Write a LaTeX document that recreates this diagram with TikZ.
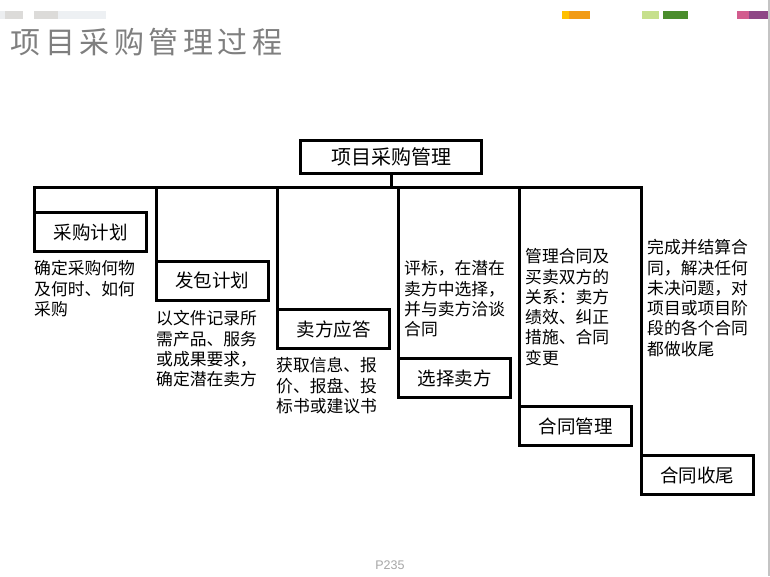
\documentclass[tikz,border=0pt]{standalone}
\usepackage{fontspec}
\setmainfont{Noto Sans CJK SC}
\newfontfamily\latinsans{Liberation Sans}
\definecolor{titlegray}{HTML}{7F7F7F}
\definecolor{pagegray}{HTML}{A6A6A6}
\definecolor{edgegray}{HTML}{C4C4C4}
\definecolor{decA}{HTML}{ECEEF0}
\definecolor{decB}{HTML}{DCDBD9}
\definecolor{decC}{HTML}{EDF0F3}
\definecolor{decYellow}{HTML}{FFC000}
\definecolor{decOrange}{HTML}{F29B16}
\definecolor{decLGreen}{HTML}{C6E08C}
\definecolor{decDGreen}{HTML}{4A8D2C}
\definecolor{decPink}{HTML}{D25C8E}
\definecolor{decPurple}{HTML}{8E4686}
\begin{document}
\begin{tikzpicture}[x=1pt,y=-1pt,
  stage/.style={draw=black,line width=3pt,minimum width=112pt,minimum height=39pt,
    inner sep=0pt,outer sep=0pt,font=\fontsize{18.5}{22}\selectfont},
  desc/.style={anchor=north west,align=left,inner sep=0pt,
    font=\fontsize{16.8}{20.3}\selectfont},
  link/.style={line width=3pt,line join=miter},
  deco/.style={draw=none}]
\useasboundingbox (0,0) rectangle (770,576);
% decorative bars
\fill[decA] (0,11) rectangle (5,19);
\fill[decB] (5,11) rectangle (23,19);
\fill[decB] (34,11) rectangle (58,19);
\fill[decC] (58,11) rectangle (106,19);
\fill[decYellow] (562,11) rectangle (569,19);
\fill[decOrange] (569,11) rectangle (590,19);
\fill[decLGreen] (642,11) rectangle (659,19);
\fill[decDGreen] (663,11) rectangle (688,19);
\fill[decPink] (737,11) rectangle (749,19);
\fill[decPurple] (749,11) rectangle (768,19);
\draw[edgegray,line width=1.5pt] (768.8,0) -- (768.8,576);
% title
\node[anchor=base west,inner sep=0pt,text=titlegray,
  font=\fontsize{30}{36}\selectfont\addfontfeature{LetterSpace=15}] (title) at (10.5,53) {项目采购管理过程};
% boxes
\node[stage,font=\fontsize{20}{24}\selectfont,minimum width=181pt,minimum height=33pt] (top) at (391,157) {项目采购管理};
\node[stage] (b1) at (90.5,232) {采购计划};
\node[stage] (b2) at (212,280.5) {发包计划};
\node[stage] (b3) at (333.5,329) {卖方应答};
\node[stage] (b4) at (454.5,378) {选择卖方};
\node[stage] (b5) at (575.5,426) {合同管理};
\node[stage] (b6) at (697,475) {合同收尾};
% connectors
\coordinate (bus) at (0,187.5);
\draw[link] (top.south) -- (top.south |- bus);
\draw[link] (b1.north west) -- (b1.north west |- bus) -- (b6.north west |- bus) -- (b6.north west);
\foreach \b in {b2,b3,b4,b5}
  \draw[link] (\b.north west) -- (\b.north west |- bus);
% descriptions
\node[desc] (d1) at (34,259) {\rule{0pt}{15.5pt}确定采购何物\\及何时、如何\\采购};
\node[desc] (d2) at (156,309) {\rule{0pt}{15.5pt}以文件记录所\\需产品、服务\\或成果要求，\\确定潜在卖方};
\node[desc] (d3) at (276,356) {\rule{0pt}{15.5pt}获取信息、报\\价、报盘、投\\标书或建议书};
\node[desc] (d4) at (404,259) {\rule{0pt}{15.5pt}评标，在潜在\\卖方中选择，\\并与卖方洽谈\\合同};
\node[desc] (d5) at (525,247) {\rule{0pt}{15.5pt}管理合同及\\买卖双方的\\关系：卖方\\绩效、纠正\\措施、合同\\变更};
\node[desc] (d6) at (647,238) {\rule{0pt}{15.5pt}完成并结算合\\同，解决任何\\未决问题，对\\项目或项目阶\\段的各个合同\\都做收尾};
% page number
\node[anchor=base,inner sep=0pt,text=pagegray,font=\latinsans\fontsize{12.5}{15}\selectfont] (page) at (390,569.3) {P235};
\end{tikzpicture}
\end{document}
